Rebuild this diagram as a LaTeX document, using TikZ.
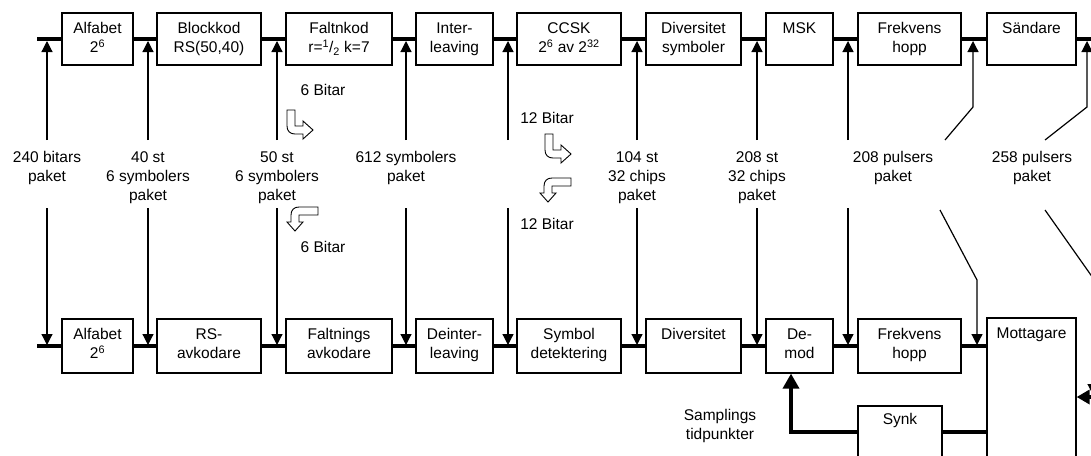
\documentclass[tikz,border=0pt]{standalone}
\usepackage{fontspec}
\setmainfont{Liberation Sans}
\usetikzlibrary{positioning, arrows.meta}

\begin{document}
\begin{tikzpicture}[x=1pt, y=-1pt, >={Triangle[length=11pt, width=11pt]},
  every node/.style={font=\fontsize{15.5}{19}\selectfont, align=center},
  blk/.style={draw, line width=1.2pt, fill=white, minimum height=52, inner sep=0pt},
  intxt/.style={anchor=north, inner sep=0pt, yshift=-10pt},
  lab/.style={anchor=north, inner sep=0pt},
  bus/.style={line width=3.5pt},
  tap/.style={line width=1.2pt},
  fat/.style={bus, -{Triangle[length=15pt, width=16pt]}},
  bent/.style={draw, line width=0.9pt, fill=white}]
  \useasboundingbox (0,0) rectangle (1091,455);
  \clip (0,0) rectangle (1091,455);

  % sandarsidan
  \coordinate (s1) at (37,39);
  \coordinate (e1) at (1091,39);
  \node[blk, minimum width=71, label={[intxt]north:{Alfabet\\2\textsuperscript{6}}}] (alf1) at (97.5,39) {};
  \node[blk, minimum width=104, label={[intxt]north:{Blockkod\\RS(50,40)}}] (bk) at (209,39) {};
  \node[blk, minimum width=106, label={[intxt]north:{Faltnkod\\r=\textsuperscript{1}/\textsubscript{2} k=7}}] (fk) at (339,39) {};
  \node[blk, minimum width=77, label={[intxt]north:{Inter-\\leaving}}] (il) at (454.5,39) {};
  \node[blk, minimum width=104, label={[intxt]north:{CCSK\\2\textsuperscript{6} av 2\textsuperscript{32}}}] (cc) at (569,39) {};
  \node[blk, minimum width=95, label={[intxt]north:{Diversitet\\symboler}}] (dv1) at (693.5,39) {};
  \node[blk, minimum width=67, label={[intxt]north:MSK}] (msk) at (799.5,39) {};
  \node[blk, minimum width=103, label={[intxt]north:{Frekvens\\hopp}}] (fh1) at (909.5,39) {};
  \node[blk, minimum width=89, label={[intxt]north:S\"andare}] (snd) at (1031.5,39) {};
  \foreach \a/\b in {s1/alf1, alf1/bk, bk/fk, fk/il, il/cc, cc/dv1, dv1/msk, msk/fh1, fh1/snd, snd/e1}
    \draw[bus] (\a) -- (\b);

  % mottagarsidan
  \coordinate (s2) at (37,346);
  \node[blk, minimum height=54, minimum width=71, label={[intxt]north:{Alfabet\\2\textsuperscript{6}}}] (alf2) at (97.5,346) {};
  \node[blk, minimum height=54, minimum width=104, label={[intxt]north:{RS-\\avkodare}}] (rs) at (209,346) {};
  \node[blk, minimum height=54, minimum width=106, label={[intxt]north:{Faltnings\\avkodare}}] (fa) at (339,346) {};
  \node[blk, minimum height=54, minimum width=77, label={[intxt]north:{Deinter-\\leaving}}] (dil) at (454.5,346) {};
  \node[blk, minimum height=54, minimum width=104, label={[intxt]north:{Symbol\\detektering}}] (sd) at (569,346) {};
  \node[blk, minimum height=54, minimum width=95, label={[intxt]north:Diversitet}] (dv2) at (693.5,346) {};
  \node[blk, minimum height=54, minimum width=67, label={[intxt]north:{De-\\mod}}] (dem) at (799.5,346) {};
  \node[blk, minimum height=54, minimum width=103, label={[intxt]north:{Frekvens\\hopp}}] (fh2) at (909.5,346) {};
  \node[blk, minimum height=160, minimum width=89, label={[intxt]north:Mottagare}] (mot) at (1031.5,398) {};
  \node[blk, minimum width=84, label={[intxt, yshift=2pt]north:Synk}] (synk) at (900,432) {};
  \foreach \a/\b in {s2/alf2, alf2/rs, rs/fa, fa/dil, dil/sd, sd/dv2, dv2/dem, dem/fh2}
    \draw[bus] (\a) -- (\b);
  \draw[bus] (fh2) -- (fh2 -| mot.west);
  \draw[bus] (synk) -- (synk -| mot.west);
  \draw[fat] (synk.west) -| ([xshift=-8.5pt]dem.south);
  \coordinate (rx) at (1091,397);
  \draw[bus, -{Triangle[length=13pt, width=14pt]}] (rx) -- (rx -| mot.east);

  % paketstorlekar
  \node[lab] (n240) at (47,151) {240 bitars\\paket};
  \node[lab] (n40) at (148,151) {40 st\\6 symbolers\\paket};
  \node[lab] (n50) at (277,151) {50 st\\6 symbolers\\paket};
  \node[lab] (n612) at (406,151) {612 symbolers\\paket};
  \node[lab] (n104) at (637,151) {104 st\\32 chips\\paket};
  \node[lab] (n208) at (757,151) {208 st\\32 chips\\paket};
  \node[lab] (p208) at (893,151) {208 pulsers\\paket};
  \node[lab] (p258) at (1032,151) {258 pulsers\\paket};
  \foreach \x [count=\i] in {47,148,277,406,508,637,757,848} {
    \coordinate (up\i) at (\x,41);
    \coordinate (dn\i) at (\x,345);
    \draw[tap, ->] (\x,140) -- (up\i);
    \draw[tap, ->] (\x,208) -- (dn\i);
  }
  \coordinate (up9) at (973,41);
  \coordinate (dn9) at (977,345);
  \coordinate (up10) at (1087,41);
  \coordinate (dn10) at (1093,395);
  \draw[tap, ->] (945,140) -- (973,107) -- (up9);
  \draw[tap, ->] (940,210) -- (977,280) -- (dn9);
  \draw[tap, ->] (1045,140) -- (1087,107) -- (up10);
  \draw[tap, ->] (1045,210) -- (1093,278) -- (dn10);

  % bitar per symbol
  \node (b6a) at (323,90) {6 Bitar};
  \node (b6b) at (323,247) {6 Bitar};
  \node (b12a) at (547,118) {12 Bitar};
  \node (b12b) at (547,224) {12 Bitar};
  \draw[bent, shift={(287,110)}] (0,0) -- (8,0) -- (8,16) -- (16,16) -- (16,11) -- (26,20)
    -- (16,29) -- (16,24) -- (8,24) .. controls (3,24) and (0,21) .. (0,16) -- cycle;
  \draw[bent, shift={(545,134)}] (0,0) -- (8,0) -- (8,16) -- (16,16) -- (16,11) -- (26,20)
    -- (16,29) -- (16,24) -- (8,24) .. controls (3,24) and (0,21) .. (0,16) -- cycle;
  \draw[bent, shift={(288,207)}] (30,0) -- (30,8) -- (11,8) -- (11,15) -- (15,15) -- (7,24)
    -- (-1,15) -- (3,15) -- (3,8) .. controls (3,3) and (6,0) .. (11,0) -- cycle;
  \draw[bent, shift={(541,178)}] (30,0) -- (30,8) -- (11,8) -- (11,15) -- (15,15) -- (7,24)
    -- (-1,15) -- (3,15) -- (3,8) .. controls (3,3) and (6,0) .. (11,0) -- cycle;

  % synkronisering
  \node[lab] (samp) at (720,409) {Samplings\\tidpunkter};
\end{tikzpicture}
\end{document}
